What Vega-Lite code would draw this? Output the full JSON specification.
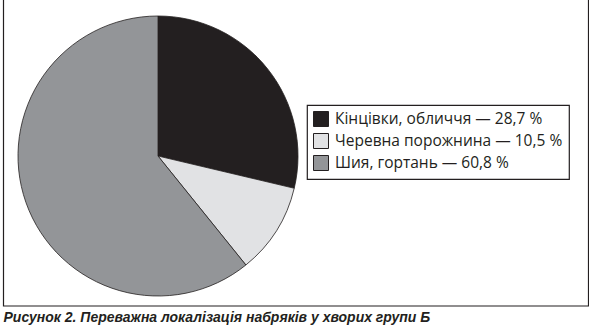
{
  "$schema": "https://vega.github.io/schema/vega-lite/v6.json",
  "width": 585,
  "height": 307,
  "padding": {"left": 2.5, "top": -2, "right": 1.5, "bottom": 0},
  "background": "white",
  "title": {
    "text": "Рисунок 2. Переважна локалізація набряків у хворих групи Б",
    "orient": "bottom",
    "anchor": "start",
    "frame": "group",
    "font": "Liberation Sans",
    "fontSize": 14,
    "fontWeight": "bold",
    "fontStyle": "italic",
    "color": "#231f20",
    "offset": 4
  },
  "layer": [
    {
      "data": {"values": [{"frame": 1}]},
      "mark": {"type": "rect", "fill": null, "stroke": "#231f20", "strokeWidth": 1.2},
      "encoding": {}
    },
    {
      "data": {
        "values": [
          {"category": "Кінцівки, обличчя — 28,7 %", "value": 28.7},
          {"category": "Черевна порожнина — 10,5 %", "value": 10.5},
          {"category": "Шия, гортань — 60,8 %", "value": 60.8}
        ]
      },
      "mark": {
        "type": "arc",
        "outerRadius": 140,
        "x": 154.5,
        "y": 157,
        "stroke": "#231f20",
        "strokeWidth": 0.8
      },
      "encoding": {
        "theta": {"field": "value", "type": "quantitative", "stack": true},
        "color": {
          "field": "category",
          "type": "nominal",
          "sort": null,
          "scale": {
            "domain": ["Кінцівки, обличчя — 28,7 %", "Черевна порожнина — 10,5 %", "Шия, гортань — 60,8 %"],
            "range": ["#231f20", "#e1e2e4", "#939598"]
          },
          "legend": {
            "title": null,
            "orient": "none",
            "legendX": 303.5,
            "legendY": 106,
            "strokeColor": "#231f20",
            "padding": 6,
            "symbolType": "square",
            "symbolSize": 225,
            "symbolStrokeColor": "#231f20",
            "symbolStrokeWidth": 1,
            "labelFont": "Open Sans",
            "labelFontSize": 15.5,
            "labelColor": "#231f20",
            "labelOffset": 6,
            "rowPadding": 2,
            "labelLimit": 400
          }
        },
        "order": {"field": "category", "type": "nominal", "sort": "ascending"}
      }
    }
  ],
  "config": {
    "view": {"stroke": null},
    "legend": {"strokeWidth": 1.2}
  }
}
